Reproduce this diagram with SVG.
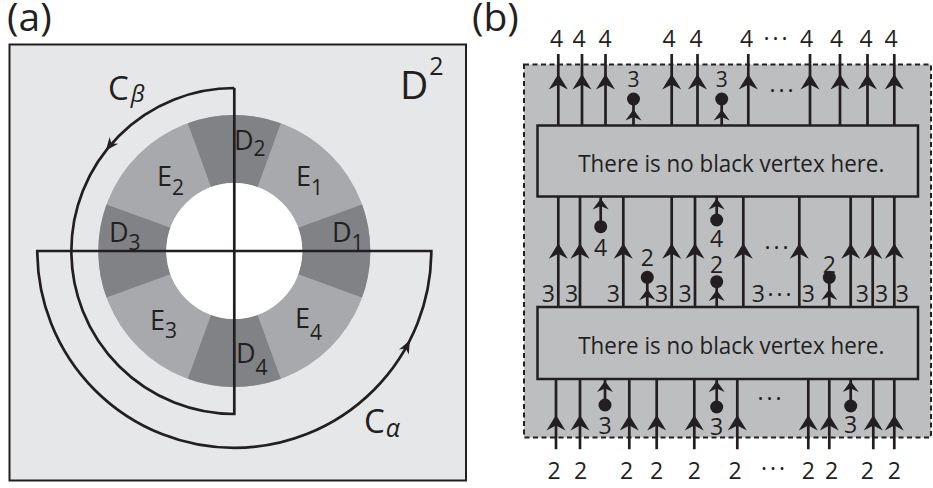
<svg xmlns="http://www.w3.org/2000/svg" width="933" height="488" viewBox="0 0 933 488">
<style>
.t{font-family:"Open Sans","Noto Sans","Liberation Sans",sans-serif;fill:#231f20}
.big{font-size:39px}
.lab{font-size:27px}
.sub{font-size:21px}
.num{font-size:23px;text-anchor:middle}
.snum{font-size:21px;text-anchor:middle}
.dots{font-size:23px;text-anchor:middle;letter-spacing:3px}
.ln{stroke:#231f20;stroke-width:2.7;fill:none}
.fill{fill:#231f20}
.box{fill:#bcbec0;stroke:#231f20;stroke-width:2.5}
</style>
<defs>
<path id="ah" d="M0,0 L9.5,15.5 L0,10.5 L-9.5,15.5 Z"/>
<path id="ahs" d="M0,0 L8,11 L0,7.5 L-8,11 Z"/>
<path id="aha" d="M0,0 L-13,-5.5 L-9,0 L-13,5.5 Z"/>
<path id="dsec" d="M63.9,-23.3 L127.8,-46.5 A136,136 0 0 1 127.8,46.5 L63.9,23.3 A68,68 0 0 0 63.9,-23.3 Z"/>
</defs>

<!-- Panel (a) -->
<g id="panel-a">
<rect x="9.5" y="44.5" width="456.5" height="436" fill="#e6e7e8" stroke="#231f20" stroke-width="2"/>
<g id="annulus" transform="translate(234.3,251)">
<circle r="102" fill="none" stroke="#a7a9ac" stroke-width="68"/>
<use href="#dsec" fill="#808285"/>
<use href="#dsec" fill="#808285" transform="rotate(90)"/>
<use href="#dsec" fill="#808285" transform="rotate(180)"/>
<use href="#dsec" fill="#808285" transform="rotate(270)"/>
<circle r="68" fill="#ffffff"/>
</g>
<g id="connectors-a">
<path class="ln" d="M234.3,88 V414 A163,163 0 0 1 234.3,88"/>
<path class="ln" d="M37.3,251 H431.3 A197,197 0 0 1 37.3,251 Z"/>
<use href="#aha" class="fill" transform="translate(105.9,150.6) rotate(128)"/>
<use href="#aha" class="fill" transform="translate(409.8,340.4) rotate(-63)"/>
</g>
<g id="labels-a">
<text class="t big" x="7" y="31">(a)</text>
<text class="t" x="400" y="99.3" font-size="39">D<tspan dx="1" dy="-24.3" font-size="25">2</tspan></text>
<text class="t" x="108" y="100" font-size="33">C<tspan dx="2" dy="2" font-size="24" font-style="italic">β</tspan></text>
<text class="t" x="364" y="433" font-size="33">C<tspan dx="1" dy="4" font-size="25" font-style="italic">α</tspan></text>
<g id="D2"><text class="t lab" x="234" y="150">D<tspan class="sub" dy="6">2</tspan></text></g>
<g id="E2"><text class="t lab" x="157" y="186">E<tspan class="sub" dy="9">2</tspan></text></g>
<g id="E1"><text class="t lab" x="296" y="186">E<tspan class="sub" dy="9">1</tspan></text></g>
<g id="D3"><text class="t lab" x="109" y="242">D<tspan class="sub" dy="8">3</tspan></text></g>
<g id="D1"><text class="t lab" x="332" y="242">D<tspan class="sub" dy="8">1</tspan></text></g>
<g id="E3"><text class="t lab" x="150" y="330">E<tspan class="sub" dy="8">3</tspan></text></g>
<g id="E4"><text class="t lab" x="295" y="328">E<tspan class="sub" dy="12">4</tspan></text></g>
<g id="D4"><text class="t lab" x="236" y="363">D<tspan class="sub" dy="12">4</tspan></text></g>
</g>
</g>

<!-- Panel (b) -->
<g id="panel-b">
<text class="t big" x="472" y="31">(b)</text>
<rect x="524" y="64.5" width="407" height="373" fill="#bcbec0" stroke="#231f20" stroke-width="2" stroke-dasharray="5 3.5"/>
<g id="box-upper">
<rect class="box" x="537.5" y="125.5" width="380.5" height="71"/>
<text class="t" x="578.3" y="171.7" font-size="23" textLength="306" lengthAdjust="spacingAndGlyphs">There is no black vertex here.</text>
</g>
<g id="box-lower">
<rect class="box" x="537.5" y="307" width="380.5" height="72"/>
<text class="t" x="578.3" y="353.7" font-size="23" textLength="306" lengthAdjust="spacingAndGlyphs">There is no black vertex here.</text>
</g>

<g id="connectors-b">
<!-- top strands -->
<path class="ln" d="M558.3,54V125.5M582,54V125.5M605.5,54V125.5M671.7,54V125.5M697.5,54V125.5M748.3,54V125.5M810,54V125.5M840,54V125.5M867.5,54V125.5M894.3,54V125.5"/>
<use href="#ah" class="fill" x="558.3" y="74"/>
<use href="#ah" class="fill" x="582" y="74"/>
<use href="#ah" class="fill" x="605.5" y="74"/>
<use href="#ah" class="fill" x="671.7" y="74"/>
<use href="#ah" class="fill" x="697.5" y="74"/>
<use href="#ah" class="fill" x="748.3" y="74"/>
<use href="#ah" class="fill" x="810" y="74"/>
<use href="#ah" class="fill" x="840" y="74"/>
<use href="#ah" class="fill" x="867.5" y="74"/>
<use href="#ah" class="fill" x="894.3" y="74"/>
<path class="ln" d="M633.5,99V125.5M721.7,99V125.5"/>
<use href="#ahs" class="fill" x="633.5" y="109.5"/>
<use href="#ahs" class="fill" x="721.7" y="109.5"/>
<circle class="fill" cx="633.5" cy="99" r="6.5"/>
<circle class="fill" cx="721.7" cy="99" r="6.5"/>

<!-- middle strands -->
<path class="ln" d="M558.3,196.5V307M580,196.5V307M623.3,196.5V307M671.7,196.5V307M695,196.5V307M743.3,196.5V307M799.3,196.5V307M850.7,196.5V307M872.7,196.5V307M894.3,196.5V307"/>
<use href="#ah" class="fill" x="558.3" y="243.3"/>
<use href="#ah" class="fill" x="580" y="243.3"/>
<use href="#ah" class="fill" x="623.3" y="243.3"/>
<use href="#ah" class="fill" x="671.7" y="243.3"/>
<use href="#ah" class="fill" x="695" y="243.3"/>
<use href="#ah" class="fill" x="743.3" y="243.3"/>
<use href="#ah" class="fill" x="799.3" y="243.3"/>
<use href="#ah" class="fill" x="850.7" y="243.3"/>
<use href="#ah" class="fill" x="872.7" y="243.3"/>
<use href="#ah" class="fill" x="894.3" y="243.3"/>
<path class="ln" d="M600.7,196.5V226.7M716.7,196.5V220"/>
<use href="#ahs" class="fill" x="600.7" y="198.5"/>
<use href="#ahs" class="fill" x="716.7" y="198.5"/>
<circle class="fill" cx="600.7" cy="226.7" r="6.5"/>
<circle class="fill" cx="716.7" cy="220" r="6.5"/>
<path class="ln" d="M647.3,277.3V307M716.7,281.7V307M829.3,277.3V307"/>
<use href="#ahs" class="fill" x="647.3" y="289"/>
<use href="#ahs" class="fill" x="716.7" y="290"/>
<use href="#ahs" class="fill" x="829.3" y="289"/>
<circle class="fill" cx="647.3" cy="277.3" r="6.5"/>
<circle class="fill" cx="716.7" cy="281.7" r="6.5"/>
<circle class="fill" cx="829.3" cy="277.3" r="6.5"/>

<!-- bottom strands -->
<path class="ln" d="M556,379V449.3M580,379V449.3M629.3,379V449.3M656.7,379V449.3M694.3,379V449.3M737.3,379V449.3M808.3,379V449.3M829.3,379V449.3M873.3,379V449.3M894.3,379V449.3"/>
<use href="#ah" class="fill" x="556" y="415"/>
<use href="#ah" class="fill" x="580" y="415"/>
<use href="#ah" class="fill" x="629.3" y="415"/>
<use href="#ah" class="fill" x="656.7" y="415"/>
<use href="#ah" class="fill" x="694.3" y="415"/>
<use href="#ah" class="fill" x="737.3" y="415"/>
<use href="#ah" class="fill" x="808.3" y="415"/>
<use href="#ah" class="fill" x="829.3" y="415"/>
<use href="#ah" class="fill" x="873.3" y="415"/>
<use href="#ah" class="fill" x="894.3" y="415"/>
<path class="ln" d="M605,379V405M716.7,379V407M850.7,379V406"/>
<use href="#ahs" class="fill" x="605" y="381"/>
<use href="#ahs" class="fill" x="716.7" y="381"/>
<use href="#ahs" class="fill" x="850.7" y="381"/>
<circle class="fill" cx="605" cy="405" r="6.5"/>
<circle class="fill" cx="716.7" cy="407" r="6.5"/>
<circle class="fill" cx="850.7" cy="406" r="6.5"/>
</g>

<g id="labels-b">
<!-- top labels -->
<text class="t num" x="556.7" y="46.5">4</text>
<text class="t num" x="579" y="46.5">4</text>
<text class="t num" x="605" y="46.5">4</text>
<text class="t num" x="669" y="46.5">4</text>
<text class="t num" x="696" y="46.5">4</text>
<text class="t num" x="746.7" y="46.5">4</text>
<text class="t dots" x="777" y="47">···</text>
<text class="t num" x="806.7" y="46.5">4</text>
<text class="t num" x="836.7" y="46.5">4</text>
<text class="t num" x="866" y="46.5">4</text>
<text class="t num" x="891" y="46.5">4</text>
<text class="t snum" x="633.5" y="86.7">3</text>
<text class="t snum" x="721.7" y="86.7">3</text>
<text class="t dots" x="783" y="99">···</text>
<!-- middle labels -->
<text class="t num" x="600.7" y="255.5">4</text>
<text class="t num" x="716.7" y="246.5">4</text>
<text class="t dots" x="778" y="256">···</text>
<text class="t num" x="647.3" y="266">2</text>
<text class="t num" x="716.7" y="273">2</text>
<text class="t num" x="829.3" y="273">2</text>
<text class="t num" x="548.3" y="302">3</text>
<text class="t num" x="571.7" y="302">3</text>
<text class="t num" x="613.3" y="302">3</text>
<text class="t num" x="661.7" y="302">3</text>
<text class="t num" x="685" y="302">3</text>
<text class="t num" x="758.3" y="302">3</text>
<text class="t dots" x="781" y="303">···</text>
<text class="t num" x="808.3" y="302">3</text>
<text class="t num" x="862.3" y="302">3</text>
<text class="t num" x="881.7" y="302">3</text>
<text class="t num" x="902.3" y="302">3</text>
<!-- bottom labels -->
<text class="t dots" x="771" y="407">···</text>
<text class="t num" x="605" y="433.5">3</text>
<text class="t num" x="716.7" y="435">3</text>
<text class="t num" x="850.7" y="433">3</text>
<text class="t num" x="554" y="479.3">2</text>
<text class="t num" x="580.7" y="479.3">2</text>
<text class="t num" x="626.7" y="479.3">2</text>
<text class="t num" x="656.7" y="479.3">2</text>
<text class="t num" x="694.3" y="479.3">2</text>
<text class="t num" x="735" y="479.3">2</text>
<text class="t dots" x="774.5" y="476.5">···</text>
<text class="t num" x="808.3" y="479.3">2</text>
<text class="t num" x="831.7" y="479.3">2</text>
<text class="t num" x="867.3" y="479.3">2</text>
<text class="t num" x="894.3" y="479.3">2</text>
</g>
</g>
</svg>
